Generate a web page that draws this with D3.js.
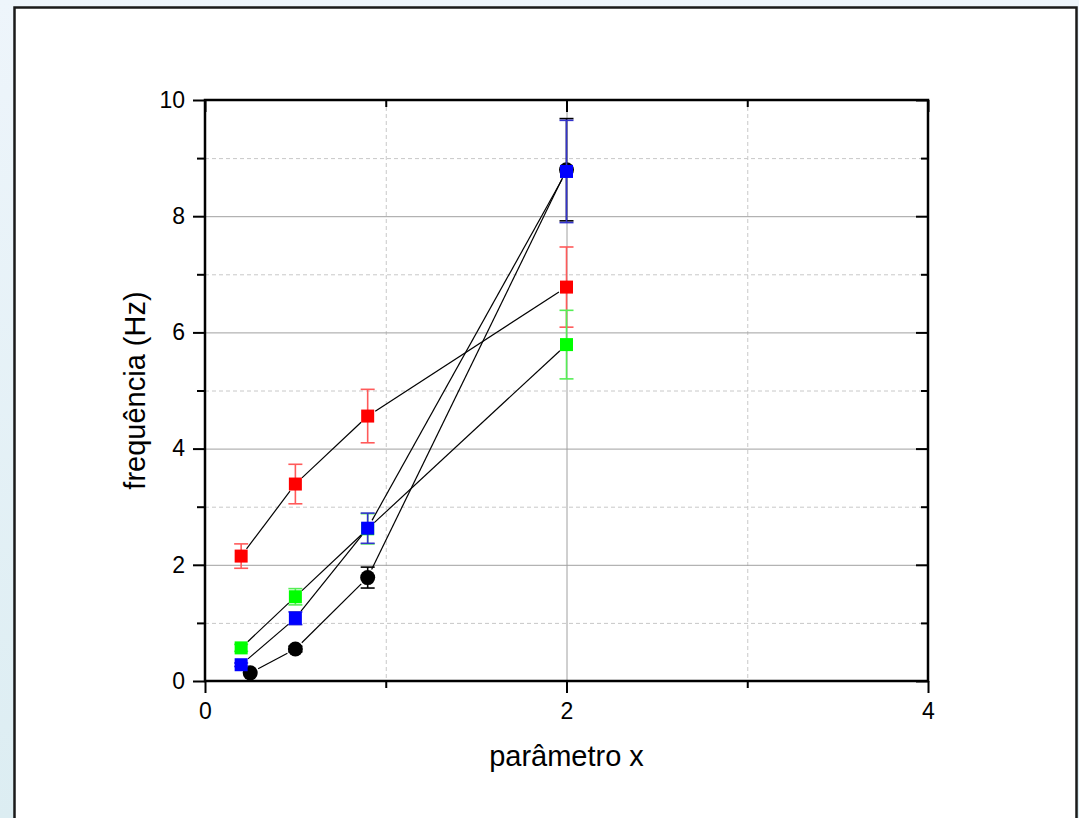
<!DOCTYPE html>
<html>
<head>
<meta charset="utf-8">
<title>frequência vs parâmetro x</title>
<script src="https://d3js.org/d3.v7.min.js"></script>
<style>
  body { margin: 0; padding: 0; overflow: hidden; }
  svg text { font-family: Arial, "Liberation Sans", sans-serif; fill: #000; }
</style>
</head>
<body>
<svg width="1079" height="818"></svg>
<script>
// ---- data ----
const xTicks = [0, 2, 4];
const yTicks = [0, 2, 4, 6, 8, 10];

// each series: x, y, error
const redX = [0.2, 0.5, 0.9, 2];
const redY = [2.15, 3.39, 4.56, 6.78];
const redErr = [0.21, 0.34, 0.46, 0.69];

const greenX = [0.2, 0.5, 0.9, 2];
const greenY = [0.57, 1.45, 2.62, 5.79];
const greenErr = [0.06, 0.14, 0.26, 0.59];

const blueX = [0.2, 0.5, 0.9, 2];
const blueY = [0.28, 1.08, 2.63, 8.77];
const blueErr = [0.03, 0.11, 0.26, 0.88];

const blackX = [0.25, 0.5, 0.9, 2];
const blackY = [0.14, 0.55, 1.78, 8.8];
const blackErr = [0.02, 0.05, 0.18, 0.88];

const series = [
  { name: "black", x: blackX, y: blackY, e: blackErr, color: "#000000", err: "#000000", shape: "circle" },
  { name: "red", x: redX, y: redY, e: redErr, color: "#ff0000", err: "#ff5a5a", shape: "square" },
  { name: "green", x: greenX, y: greenY, e: greenErr, color: "#00ff00", err: "#55ee55", shape: "square" },
  { name: "blue", x: blueX, y: blueY, e: blueErr, color: "#0000ff", err: "#3333cc", shape: "square" }
];

let svg = d3.select("svg");

// background + white panel
let defs = svg.append("defs");
let grad = defs.append("linearGradient").attr("id", "bg")
  .attr("x1", 0).attr("y1", 0).attr("x2", 0).attr("y2", 1);
grad.append("stop").attr("offset", "0%").attr("stop-color", "#eef5fb");
grad.append("stop").attr("offset", "100%").attr("stop-color", "#dcedf2");
svg.append("rect").attr("width", 1079).attr("height", 818).attr("fill", "url(#bg)");
svg.append("rect")
  .attr("x", 14.5).attr("y", 7.5).attr("width", 1062).attr("height", 900)
  .attr("fill", "#fff").attr("stroke", "#1a1a1a").attr("stroke-width", 2.5);

// plot area
const pLeft = 205, pRight = 928, pTop = 100, pBottom = 681;
let x = d3.scaleLinear().domain([0, 4]).range([pLeft, pRight]);
let y = d3.scaleLinear().domain([0, 10]).range([pBottom, pTop]);

let g = svg.append("g");

// grid: minor dashed, major solid
g.selectAll(".gmy").data([1, 3, 5, 7, 9]).join("line")
  .attr("x1", pLeft).attr("x2", pRight)
  .attr("y1", d => y(d) + 0.5).attr("y2", d => y(d) + 0.5)
  .attr("stroke", "#c8c8c8").attr("stroke-dasharray", "4,3");
g.selectAll(".gmx").data([1, 3]).join("line")
  .attr("y1", pTop).attr("y2", pBottom)
  .attr("x1", d => x(d) + 0.5).attr("x2", d => x(d) + 0.5)
  .attr("stroke", "#c8c8c8").attr("stroke-dasharray", "4,3");
g.selectAll(".gMy").data([2, 4, 6, 8]).join("line")
  .attr("x1", pLeft).attr("x2", pRight)
  .attr("y1", d => y(d) + 0.5).attr("y2", d => y(d) + 0.5)
  .attr("stroke", "#a0a0a0");
g.selectAll(".gMx").data([2]).join("line")
  .attr("y1", pTop).attr("y2", pBottom)
  .attr("x1", d => x(d) + 0.5).attr("x2", d => x(d) + 0.5)
  .attr("stroke", "#a0a0a0");

// axes
function styleAxis(sel) {
  sel.select(".domain").remove();
  sel.selectAll(".tick line").attr("stroke", "#000").attr("stroke-width", 2);
  sel.selectAll(".tick text").attr("font-size", 23).attr("font-family", "Arial, 'Liberation Sans', sans-serif");
}

svg.append("g").attr("transform", `translate(${pLeft},0)`)
  .call(d3.axisLeft(y).tickValues(yTicks).tickSize(12).tickPadding(8).tickFormat(d3.format("d")))
  .call(styleAxis);
svg.append("g").attr("transform", `translate(${pLeft},0)`)
  .call(d3.axisLeft(y).tickValues([1, 3, 5, 7, 9]).tickSize(8).tickFormat(""))
  .call(styleAxis);
svg.append("g").attr("transform", `translate(0,${pBottom})`)
  .call(d3.axisBottom(x).tickValues(xTicks).tickSize(12).tickPadding(10).tickFormat(d3.format("d")))
  .call(styleAxis);
svg.append("g").attr("transform", `translate(0,${pBottom})`)
  .call(d3.axisBottom(x).tickValues([1, 3]).tickSize(7).tickFormat(""))
  .call(styleAxis);
// top and right: inward ticks
svg.append("g").attr("transform", `translate(0,${pTop})`)
  .call(d3.axisTop(x).tickValues(xTicks).tickSize(-12).tickFormat(""))
  .call(styleAxis);
svg.append("g").attr("transform", `translate(0,${pTop})`)
  .call(d3.axisTop(x).tickValues([1, 3]).tickSize(-7).tickFormat(""))
  .call(styleAxis);
svg.append("g").attr("transform", `translate(${pRight},0)`)
  .call(d3.axisRight(y).tickValues(yTicks).tickSize(-12).tickFormat(""))
  .call(styleAxis);
svg.append("g").attr("transform", `translate(${pRight},0)`)
  .call(d3.axisRight(y).tickValues([1, 3, 5, 7, 9]).tickSize(-7).tickFormat(""))
  .call(styleAxis);

// frame
svg.append("rect")
  .attr("x", pLeft).attr("y", pTop).attr("width", pRight - pLeft).attr("height", pBottom - pTop)
  .attr("fill", "none").attr("stroke", "#000").attr("stroke-width", 2.5);

// connecting lines (with gaps around markers)
const gap = 9;
series.forEach(s => {
  for (let i = 0; i < s.x.length - 1; i++) {
    let x1 = x(s.x[i]), y1 = y(s.y[i]), x2 = x(s.x[i + 1]), y2 = y(s.y[i + 1]);
    let dx = x2 - x1, dy = y2 - y1, len = Math.hypot(dx, dy);
    if (len <= 2 * gap) continue;
    let ux = dx / len, uy = dy / len;
    svg.append("line")
      .attr("x1", x1 + ux * gap).attr("y1", y1 + uy * gap)
      .attr("x2", x2 - ux * gap).attr("y2", y2 - uy * gap)
      .attr("stroke", "#000").attr("stroke-width", 1.2);
  }
});

// error bars + markers
const cap = 7;
series.forEach(s => {
  let pts = s.x.map((v, i) => ({ x: v, y: s.y[i], e: s.e[i] }));
  let eg = svg.append("g").attr("stroke", s.err).attr("stroke-width", 1.6);
  pts.forEach(p => {
    let cx = x(p.x), yt = y(p.y + p.e), yb = y(p.y - p.e);
    eg.append("line").attr("x1", cx).attr("x2", cx).attr("y1", yt).attr("y2", yb);
    eg.append("line").attr("x1", cx - cap).attr("x2", cx + cap).attr("y1", yt).attr("y2", yt);
    eg.append("line").attr("x1", cx - cap).attr("x2", cx + cap).attr("y1", yb).attr("y2", yb);
  });
  let mg = svg.append("g");
  if (s.shape === "circle") {
    mg.selectAll("circle").data(pts).join("circle")
      .attr("cx", d => x(d.x)).attr("cy", d => y(d.y)).attr("r", 7.5)
      .attr("fill", s.color);
  } else {
    mg.selectAll("rect").data(pts).join("rect")
      .attr("x", d => x(d.x) - 6.5).attr("y", d => y(d.y) - 6.5)
      .attr("width", 13).attr("height", 13)
      .attr("fill", s.color);
  }
});

// axis titles
svg.append("text")
  .attr("x", (pLeft + pRight) / 2).attr("y", 766)
  .attr("text-anchor", "middle").attr("font-size", 29)
  .text("parâmetro x");
svg.append("text")
  .attr("transform", `translate(145,${(pTop + pBottom) / 2}) rotate(-90)`)
  .attr("text-anchor", "middle").attr("font-size", 29)
  .text("frequência (Hz)");
</script>
</body>
</html>
